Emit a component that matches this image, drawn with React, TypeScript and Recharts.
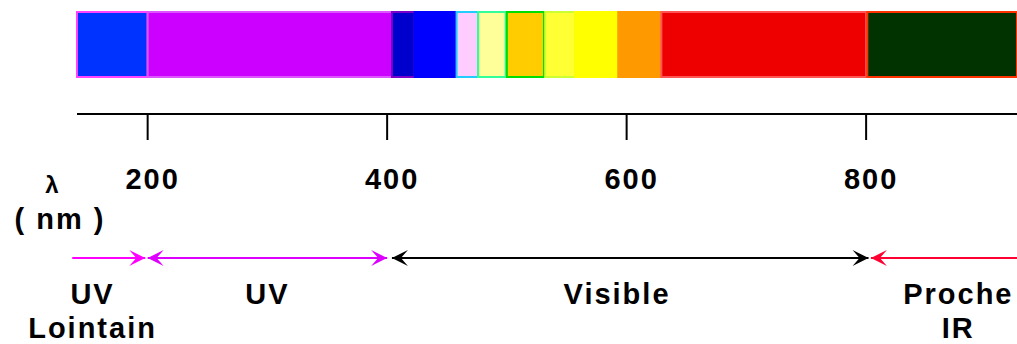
import {
  ComposedChart,
  Label,
  ReferenceArea,
  ReferenceDot,
  ReferenceLine,
  Scatter,
  XAxis,
  YAxis,
} from 'recharts'

// spectre : bandes de couleur (nm)
const bandStart = [141, 200, 404, 423, 458, 476, 500, 532, 557, 593, 629, 801]
const bandEnd = [200, 404, 423, 458, 476, 499, 531, 557, 592, 629, 800, 926]

const axisTicks = [200, 400, 600, 800]

// domaines : UV lointain, UV, visible, proche IR
const regionLines = [['UV', 'Lointain'], ['UV'], ['Visible'], ['Proche', 'IR']]
const regionFrom = [137, 200, 404, 804]
const regionTo = [198, 400, 802, 926]

const BAND_FILL = [
  '#0033ff', '#cc00ff', '#0000cc', '#0000ff', '#ffccff', '#ffff99',
  '#ffcc00', '#ffff33', '#ffff00', '#ff9900', '#ee0000', '#003300',
]
const BAND_EDGE = [
  '#ff44ff', '#dd55ff', '#7a00cc', '#0000ff', '#22ccff', '#33ff99',
  '#00dd00', '#ccff33', '#ffff00', '#ff9900', '#ff5555', '#ff3300',
]
const ARROW_COLOR = ['#ff00ff', '#dd00ff', '#000000', '#ff0033']
const HEAD_START = [false, true, true, true]
const HEAD_END = [true, true, true, false]
const LABEL_AT = [154, 300, 592, 877]

const font = {
  fontFamily: '"Liberation Sans", Arial, sans-serif',
  fontWeight: 700,
  fontSize: 29,
  letterSpacing: 2,
  fill: '#000',
}

// points d'ancrage (bords des bandes) pour que le graphique ait une série
const edgePoints = bandStart.map((s) => ({ x: s, y: 12 }))

function arrowShape(p: any, color: string, start: boolean, end: boolean) {
  const { x1, x2, y1 } = p
  const head = (tip: number, dir: number) =>
    `M${tip},${y1} L${tip - dir * 16},${y1 - 8} L${tip - dir * 9},${y1} L${tip - dir * 16},${y1 + 8} Z`
  return (
    <g>
      <line x1={x1} y1={y1} x2={x2} y2={y1} stroke={color} strokeWidth={2} />
      {start ? <path d={head(x1, -1)} fill={color} /> : null}
      {end ? <path d={head(x2, 1)} fill={color} /> : null}
    </g>
  )
}

export default function App() {
  return (
    <div style={{ position: 'absolute', left: 0, top: 0, background: '#fff' }}>
      <ComposedChart
        width={1017}
        height={344}
        data={edgePoints}
        margin={{ top: 0, right: 0, bottom: 0, left: 77 }}
      >
        <XAxis
          type="number"
          dataKey="x"
          domain={[141, 926]}
          allowDataOverflow
          ticks={axisTicks}
          height={230}
          axisLine={{ stroke: '#000', strokeWidth: 2 }}
          tickLine={{ stroke: '#000', strokeWidth: 2 }}
          tickSize={26}
          tick={(p: any) => (
            <text x={p.x + 5} y={189} textAnchor="middle" style={font}>
              {p.payload.value}
            </text>
          )}
        >
          <Label
            content={(p: any) => {
              const vb = p.viewBox
              return (
                <g>
                  <text x={vb.x - 24} y={193} textAnchor="middle" style={{ ...font, fontSize: 24 }}>
                    λ
                  </text>
                  <text x={vb.x - 17} y={229} textAnchor="middle" style={font}>
                    ( nm )
                  </text>
                </g>
              )
            }}
          />
        </XAxis>
        <YAxis type="number" dataKey="y" domain={[0, 114]} allowDataOverflow reversed hide />

        <Scatter data={edgePoints} dataKey="y" shape={() => <g />} isAnimationActive={false} />

        {bandStart.map((s, i) => (
          <ReferenceArea
            key={`band-${i}`}
            x1={s}
            x2={bandEnd[i]}
            y1={12}
            y2={77}
            fill={BAND_FILL[i]}
            fillOpacity={1}
            stroke={BAND_EDGE[i]}
            strokeWidth={2}
            ifOverflow="visible"
          />
        ))}

        {regionFrom.map((f, i) => (
          <ReferenceLine
            key={`arrow-${i}`}
            segment={[
              { x: f, y: 258 },
              { x: regionTo[i], y: 258 },
            ]}
            ifOverflow="visible"
            shape={(p: any) => arrowShape(p, ARROW_COLOR[i], HEAD_START[i], HEAD_END[i])}
          />
        ))}

        {regionLines.map((lines, i) => (
          <ReferenceDot
            key={`label-${i}`}
            x={LABEL_AT[i]}
            y={304}
            r={0}
            ifOverflow="visible"
            shape={(p: any) => (
              <text x={p.cx} y={p.cy} textAnchor="middle" style={font}>
                {lines.map((t, j) => (
                  <tspan key={t} x={p.cx} dy={j === 0 ? 0 : 34}>
                    {t}
                  </tspan>
                ))}
              </text>
            )}
          />
        ))}
      </ComposedChart>
    </div>
  )
}
